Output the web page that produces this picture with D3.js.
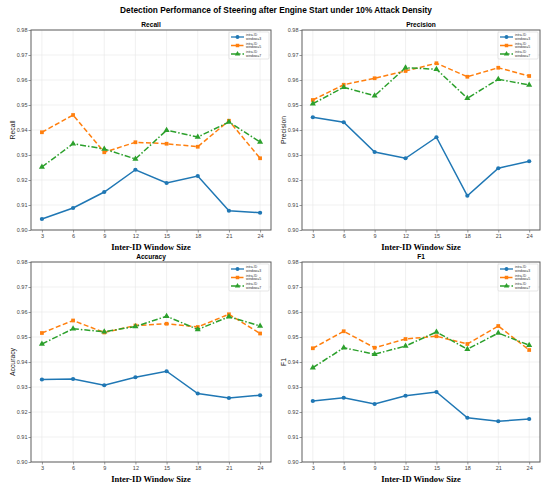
<!DOCTYPE html>
<html>
<head>
<meta charset="utf-8">
<script src="https://cdn.jsdelivr.net/npm/d3@7"></script>
<style>
  html, body { margin: 0; padding: 0; background: #fff; }
  svg { display: block; }
  .tick text { fill: #444; }
</style>
</head>
<body>
<div id="chart"></div>
<script>
// window sizes on the x axis
const windowSizes = [3, 6, 9, 12, 15, 18, 21, 24];
const yTicks = [0.90, 0.91, 0.92, 0.93, 0.94, 0.95, 0.96, 0.97, 0.98];
const seriesNames = ['intra-ID\nwindow=3', 'intra-ID\nwindow=5', 'intra-ID\nwindow=7'];

// Recall
const recallW3 = [0.9044, 0.9088, 0.9152, 0.9241, 0.9188, 0.9216, 0.9077, 0.9069];
const recallW5 = [0.9391, 0.9460, 0.9311, 0.9351, 0.9345, 0.9333, 0.9437, 0.9287];
const recallW7 = [0.9252, 0.9345, 0.9324, 0.9284, 0.9399, 0.9372, 0.9432, 0.9352];

// Precision
const precisionW3 = [0.9451, 0.9431, 0.9312, 0.9287, 0.9371, 0.9137, 0.9247, 0.9275];
const precisionW5 = [0.9520, 0.9581, 0.9607, 0.9636, 0.9667, 0.9613, 0.9649, 0.9616];
const precisionW7 = [0.9505, 0.9571, 0.9537, 0.9649, 0.9643, 0.9527, 0.9603, 0.9580];

// Accuracy
const accuracyW3 = [0.9330, 0.9332, 0.9307, 0.9339, 0.9363, 0.9274, 0.9256, 0.9267];
const accuracyW5 = [0.9516, 0.9566, 0.9518, 0.9546, 0.9553, 0.9540, 0.9591, 0.9514];
const accuracyW7 = [0.9472, 0.9533, 0.9521, 0.9542, 0.9583, 0.9530, 0.9581, 0.9544];

// F1
const f1W3 = [0.9244, 0.9257, 0.9232, 0.9265, 0.9280, 0.9177, 0.9163, 0.9172];
const f1W5 = [0.9455, 0.9523, 0.9457, 0.9492, 0.9503, 0.9472, 0.9544, 0.9448];
const f1W7 = [0.9377, 0.9457, 0.9431, 0.9464, 0.9520, 0.9451, 0.9516, 0.9467];

const COLORS = ['#1f77b4', '#ff7f0e', '#2ca02c'];
const DASHES = [null, '5,2.5', '6,2,1.5,2'];
const SYMBOLS = [d3.symbolCircle, d3.symbolSquare, d3.symbolTriangle];

const W = 550, H = 493;
const SANS = 'Liberation Sans, Arial, sans-serif';

const panels = [
  { title: 'Recall', ylabel: 'Recall', box: [31, 30, 271, 230], series: [recallW3, recallW5, recallW7] },
  { title: 'Precision', ylabel: 'Precision', box: [302, 30, 540, 230], series: [precisionW3, precisionW5, precisionW7] },
  { title: 'Accuracy', ylabel: 'Accuracy', box: [31, 262, 271, 462], series: [accuracyW3, accuracyW5, accuracyW7] },
  { title: 'F1', ylabel: 'F1', box: [302, 262, 540, 462], series: [f1W3, f1W5, f1W7] }
];

const svg = d3.select('#chart').append('svg')
  .attr('width', W).attr('height', H)
  .attr('viewBox', `0 0 ${W} ${H}`);

svg.append('text')
  .attr('x', 276).attr('y', 13)
  .attr('text-anchor', 'middle')
  .style('font-family', SANS)
  .style('font-weight', 'bold')
  .style('font-size', '8.3px')
  .text('Detection Performance of Steering after Engine Start under 10% Attack Density');

panels.forEach(p => drawPanel(p));

function drawPanel(p) {
  const [x0, y0, x1, y1] = p.box;
  const pad = (24 - 3) * 0.05;
  const x = d3.scaleLinear().domain([3 - pad, 24 + pad]).range([x0, x1]);
  const y = d3.scaleLinear().domain([0.90, 0.98]).range([y1, y0]);
  const g = svg.append('g');

  // grid
  g.append('g').selectAll('line').data(windowSizes).join('line')
    .attr('x1', d => x(d)).attr('x2', d => x(d))
    .attr('y1', y0).attr('y2', y1)
    .attr('stroke', '#e8e8e8').attr('stroke-width', 0.6);
  g.append('g').selectAll('line').data(yTicks).join('line')
    .attr('x1', x0).attr('x2', x1)
    .attr('y1', d => y(d)).attr('y2', d => y(d))
    .attr('stroke', '#e8e8e8').attr('stroke-width', 0.6);

  // axes
  const xAxis = g.append('g')
    .attr('transform', `translate(0,${y1})`)
    .call(d3.axisBottom(x).tickValues(windowSizes).tickSize(2.5).tickPadding(1.5).tickFormat(d3.format('d')));
  const yAxis = g.append('g')
    .attr('transform', `translate(${x0},0)`)
    .call(d3.axisLeft(y).tickValues(yTicks).tickSize(2.5).tickPadding(1).tickFormat(d3.format('.2f')));
  [xAxis, yAxis].forEach(a => {
    a.select('.domain').remove();
    a.selectAll('.tick line').attr('stroke', '#555').attr('stroke-width', 0.6);
    a.selectAll('.tick text')
      .style('font-family', SANS)
      .style('font-size', '5.5px');
  });

  // frame
  g.append('rect')
    .attr('x', x0).attr('y', y0)
    .attr('width', x1 - x0).attr('height', y1 - y0)
    .attr('fill', 'none').attr('stroke', '#5f5f5f').attr('stroke-width', 1);

  // series
  const line = d3.line().x((d, i) => x(windowSizes[i])).y(d => y(d));
  p.series.forEach((vals, si) => {
    g.append('path')
      .datum(vals)
      .attr('d', line)
      .attr('fill', 'none')
      .attr('stroke', COLORS[si])
      .attr('stroke-width', 1.5)
      .attr('stroke-dasharray', DASHES[si]);
    g.append('g').selectAll('path').data(vals).join('path')
      .attr('transform', (d, i) => `translate(${x(windowSizes[i])},${y(d)})`)
      .attr('d', d3.symbol().type(SYMBOLS[si]).size(si === 2 ? 16 : 14))
      .attr('fill', COLORS[si]);
  });

  // titles
  g.append('text')
    .attr('x', (x0 + x1) / 2).attr('y', y0 - 3.5)
    .attr('text-anchor', 'middle')
    .style('font-family', SANS)
    .style('font-weight', 'bold')
    .style('font-size', '6.6px')
    .text(p.title);

  g.append('text')
    .attr('x', (x0 + x1) / 2).attr('y', y1 + 20)
    .attr('text-anchor', 'middle')
    .style('font-family', 'Liberation Serif, Times New Roman, serif')
    .style('font-weight', 'bold')
    .style('font-size', '8.5px')
    .text('Inter-ID Window Size');

  g.append('text')
    .attr('transform', `translate(${x0 - 16},${(y0 + y1) / 2}) rotate(-90)`)
    .attr('text-anchor', 'middle')
    .style('font-family', SANS)
    .style('font-size', '6.8px')
    .attr('fill', '#222')
    .text(p.ylabel);

  // legend
  const lw = 40, lh = 27;
  const lx = x1 - lw - 2, ly = y0 + 2;
  const leg = g.append('g').attr('transform', `translate(${lx},${ly})`);
  leg.append('rect')
    .attr('width', lw).attr('height', lh)
    .attr('rx', 1)
    .attr('fill', '#fff').attr('fill-opacity', 0.8)
    .attr('stroke', '#ccc').attr('stroke-width', 0.5);
  seriesNames.forEach((name, si) => {
    const cy = 5 + si * 8.5;
    leg.append('line')
      .attr('x1', 2).attr('x2', 15).attr('y1', cy).attr('y2', cy)
      .attr('stroke', COLORS[si]).attr('stroke-width', 1.3)
      .attr('stroke-dasharray', DASHES[si]);
    leg.append('path')
      .attr('transform', `translate(8.5,${cy})`)
      .attr('d', d3.symbol().type(SYMBOLS[si]).size(12))
      .attr('fill', COLORS[si]);
    const t = leg.append('text')
      .attr('x', 17).attr('y', cy - 1)
      .style('font-family', SANS)
      .style('font-size', '3.4px')
      .attr('fill', '#333');
    name.split('\n').forEach((part, k) => {
      t.append('tspan').attr('x', 17).attr('dy', k === 0 ? 0 : 3.8).text(part);
    });
  });
}
</script>
</body>
</html>
